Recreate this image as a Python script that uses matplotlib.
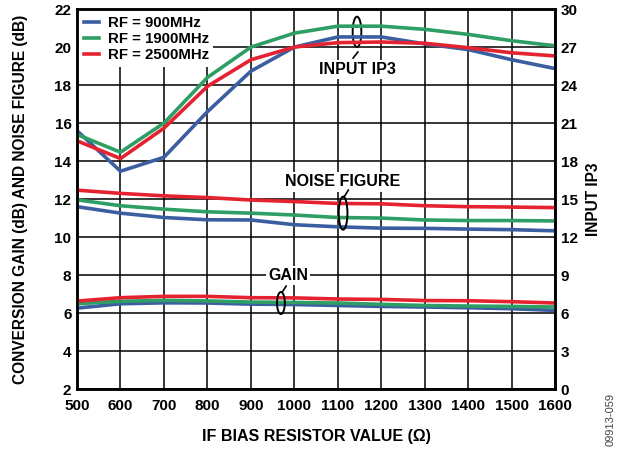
import matplotlib
matplotlib.use('Agg')
import matplotlib.pyplot as plt
from matplotlib.patches import Ellipse

plt.rcParams['font.family'] = ['Liberation Sans', 'DejaVu Sans']
plt.rcParams['font.weight'] = 'bold'
plt.rcParams['font.size'] = 11

resistor = [500, 600, 700, 800, 900, 1000, 1100, 1200, 1300, 1400, 1500, 1600]
labels = ['RF = 900MHz', 'RF = 1900MHz', 'RF = 2500MHz']
colors = ['#3b5ea1', '#2f9e64', '#e42230']

# input IP3 (right axis)
ip3_900 = [20.4, 17.2, 18.3, 21.9, 25.1, 27.0, 27.8, 27.8, 27.25, 26.8, 26.0, 25.3]
ip3_1900 = [20.1, 18.7, 21.0, 24.6, 27.0, 28.1, 28.65, 28.65, 28.4, 28.0, 27.5, 27.1]
ip3_2500 = [19.6, 18.2, 20.6, 23.9, 26.0, 27.0, 27.35, 27.4, 27.3, 26.95, 26.55, 26.3]

# noise figure (left axis)
nf_900 = [11.6, 11.26, 11.03, 10.91, 10.9, 10.65, 10.54, 10.47, 10.46, 10.42, 10.39, 10.33]
nf_1900 = [11.96, 11.65, 11.47, 11.33, 11.26, 11.16, 11.03, 11.0, 10.9, 10.87, 10.87, 10.85]
nf_2500 = [12.47, 12.3, 12.17, 12.08, 11.95, 11.87, 11.77, 11.75, 11.65, 11.6, 11.58, 11.55]

# conversion gain (left axis)
gain_900 = [6.26, 6.49, 6.54, 6.53, 6.47, 6.45, 6.4, 6.35, 6.32, 6.28, 6.23, 6.14]
gain_1900 = [6.49, 6.62, 6.67, 6.64, 6.58, 6.56, 6.53, 6.46, 6.4, 6.37, 6.35, 6.32]
gain_2500 = [6.63, 6.81, 6.88, 6.88, 6.81, 6.8, 6.74, 6.72, 6.66, 6.65, 6.6, 6.53]

fig = plt.figure(figsize=(6.26, 4.54), dpi=100)
ax = fig.add_axes([0.123, 0.143, 0.764, 0.837])
ax2 = ax.twinx()

lw = 2.6
for nf, g, c in zip([nf_900, nf_1900, nf_2500], [gain_900, gain_1900, gain_2500], colors):
    ax.plot(resistor, nf, color=c, lw=lw, zorder=3)
    ax.plot(resistor, g, color=c, lw=lw, zorder=3)

handles = []
for ip3, c, lab in zip([ip3_900, ip3_1900, ip3_2500], colors, labels):
    h, = ax2.plot(resistor, ip3, color=c, lw=lw, label=lab)
    handles.append(h)

ax.set_xlim(500, 1600)
ax.set_ylim(2, 22)
ax2.set_ylim(0, 30)
ax.set_xticks(range(500, 1601, 100))
ax.set_yticks(range(2, 23, 2))
ax2.set_yticks(range(0, 31, 3))
ax.grid(True, color='black', lw=1.1)
for a in (ax, ax2):
    a.tick_params(length=0, pad=4, labelsize=11)
    for s in a.spines.values():
        s.set_linewidth(1.8)
ax.tick_params(axis='x', pad=7)

ax.set_xlabel('IF BIAS RESISTOR VALUE (Ω)', fontweight='bold', fontsize=11.5, labelpad=12)
ax.set_ylabel('CONVERSION GAIN (dB) AND NOISE FIGURE (dB)', fontweight='bold',
              fontsize=11.2, labelpad=19)
ax2.set_ylabel('INPUT IP3', fontweight='bold', fontsize=11.2, labelpad=6)

leg = ax2.legend(handles=handles, loc='upper left', frameon=True, fancybox=False,
                 borderaxespad=0.15, handlelength=1.0, handletextpad=0.6,
                 labelspacing=0.15, borderpad=0.3, fontsize=10.8)
leg.get_frame().set_edgecolor('none')
leg.get_frame().set_facecolor('white')
leg.get_frame().set_alpha(1)

box = dict(facecolor='white', edgecolor='none', pad=1.5)
ax.text(1144, 18.8, 'INPUT IP3', ha='center', va='center', bbox=box, zorder=5, fontsize=11.5)
ax.text(1112, 12.9, 'NOISE FIGURE', ha='center', va='center', bbox=box, zorder=5, fontsize=11.5)
ax.text(986, 8.0, 'GAIN', ha='center', va='center', bbox=box, zorder=5, fontsize=11.5)

for cx, cy, w, h in [(1144, 20.8, 20, 1.6), (1112, 11.26, 20, 1.74), (969, 6.53, 18, 1.16)]:
    ax.add_patch(Ellipse((cx, cy), w, h, fill=False, edgecolor='black', lw=1.4, zorder=6))
ax.plot([1146, 1135], [19.74, 19.42], color='black', lw=1.2, zorder=6)
ax.plot([1114, 1124], [12.1, 12.47], color='black', lw=1.2, zorder=6)
ax.plot([972, 981], [7.1, 7.42], color='black', lw=1.2, zorder=6)

fig.text(0.975, 0.075, '09913-059', rotation=90, fontsize=8, fontweight='normal',
         color='#444444', ha='center', va='center')

fig.savefig('out.png', dpi=100)
